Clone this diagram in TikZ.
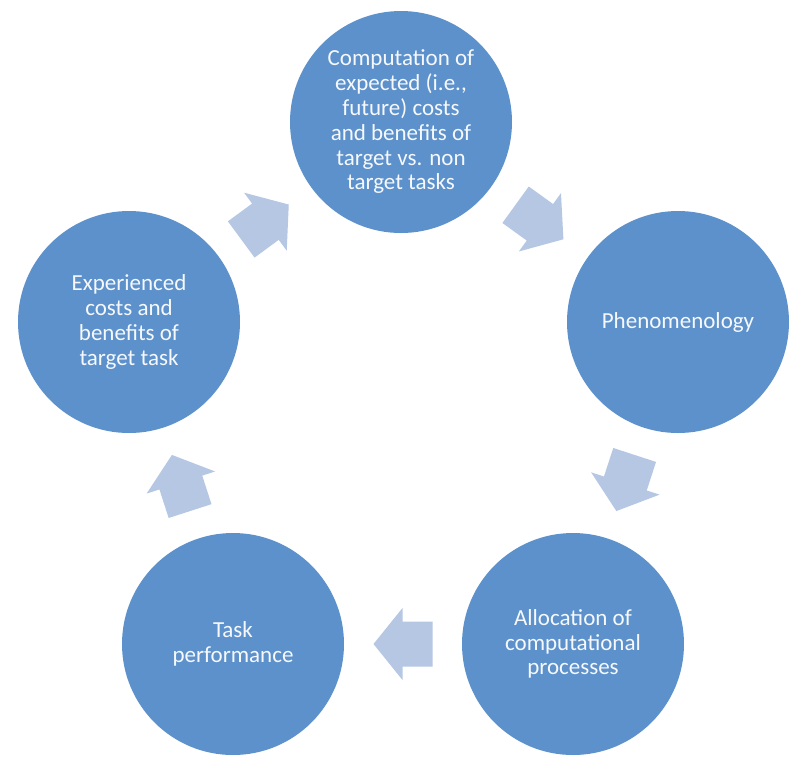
\documentclass[tikz,border=0pt]{standalone}
\usepackage{fontspec}
\setmainfont{Carlito}
\usetikzlibrary{calc}
\definecolor{bubblue}{RGB}{92,145,203}
\definecolor{arrblue}{RGB}{182,199,228}
\definecolor{txtwhite}{RGB}{246,248,252}
\tikzset{
  bub/.style={circle, fill=bubblue, draw=none, minimum size=111pt, inner sep=0pt,
    text=txtwhite, align=center, font=\fontsize{11.5}{12.4}\selectfont},
  pics/blockarr/.style={code={
    \fill[arrblue] (-14.75pt,-11.25pt) -- (0.25pt,-11.25pt) -- (0.25pt,-18pt)
      -- (14.75pt,0pt) -- (0.25pt,18pt) -- (0.25pt,11.25pt) -- (-14.75pt,11.25pt) -- cycle;}}
}
\begin{document}
\begin{tikzpicture}[x=0.5pt,y=-0.5pt]
\useasboundingbox[fill=white] (0,0) rectangle (800,768);
\node[bub] (top) at (401,122) {Computation of\\expected (i.e.,\\future) costs\\and benefits of\\target vs. non\\target tasks};
\node[bub] (right) at (678,322) {Phenomenology};
\node[bub] (bright) at (573,644) {Allocation of\\computational\\processes};
\node[bub] (bleft) at (233,644) {Task\\performance};
\node[bub] (left) at (129,322) {Experienced\\costs and\\benefits of\\target task};
\foreach \fa/\fb/\nm in {top/right/ar1, right/bright/ar2, bright/bleft/ar3, bleft/left/ar4, left/top/ar5}{
  \coordinate (\nm) at ($(\fa.center)!0.5!(\fb.center)$);
  \path let \p1=(\fa.center), \p2=(\fb.center), \n1={atan2(\y2-\y1,\x2-\x1)} in
    (\nm) pic[rotate=\n1] {blockarr};
}
\end{tikzpicture}
\end{document}
